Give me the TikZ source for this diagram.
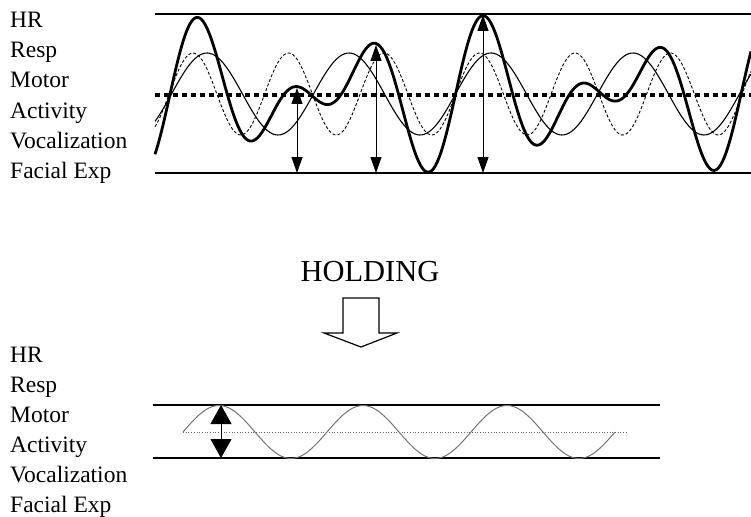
\documentclass[tikz,border=0pt]{standalone}
\usepackage{fontspec}
\setmainfont{Liberation Serif}
\usetikzlibrary{arrows.meta}
\tikzset{
  rowlabel/.style={
    anchor=base west,
    inner sep=0pt,
    font=\fontsize{23.5}{27}\selectfont
  },
  titlelabel/.style={
    inner sep=0pt,
    font=\fontsize{30.5}{34}\selectfont
  },
  railline/.style={
    draw=black,
    line width=1.3pt
  },
  slowwave/.style={
    line width=1.1pt
  },
  fastwave/.style={
    line width=0.9pt,
    dash pattern=on 3pt off 2pt
  },
  sumwave/.style={
    line width=2.8pt
  },
  meanline/.style={
    line width=4pt,
    dash pattern=on 5pt off 4pt
  },
  spanarrow/.style={
    line width=0.9pt,
    {Triangle[length=16pt,width=11pt]}-{Triangle[length=16pt,width=11pt]}
  },
  calmwave/.style={
    draw=black!55,
    line width=1pt
  },
  calmmean/.style={
    draw=black!60,
    line width=0.7pt,
    dotted
  },
  calmarrow/.style={
    line width=1pt,
    {Triangle[length=19pt,width=21pt]}-{Triangle[length=19pt,width=21pt]}
  }
}

\begin{document}
\begin{tikzpicture}[x=1pt,y=-1pt]
  \useasboundingbox (0,0) rectangle (751,516);
  \foreach \lab [count=\i] in {HR,Resp,Motor,Activity,Vocalization,Facial Exp}{
    \node[rowlabel] (toplab\i) at (10,{-2+30*\i}) {\lab};
    \node[rowlabel] (botlab\i) at (10,{332+30*\i}) {\lab};
  }
  \coordinate (railAw) at (155,14);
  \coordinate (railAe) at (751,14);
  \coordinate (railBw) at (155,173);
  \coordinate (railBe) at (751,173);
  \coordinate (meanw) at (155,95);
  \coordinate (meane) at (751,95);
  \draw[railline] (railAw) -- (railAe);
  \draw[railline] (railBw) -- (railBe);
  \draw[slowwave] plot[domain=155:751,samples=240] (\x,{94-41*cos((\x-207)/142*360)});
  \draw[fastwave] plot[domain=155:751,samples=300] (\x,{94-41*cos((\x-193)/95.5*360)});
  \draw[sumwave] plot[domain=155:751,samples=360] (\x,{94-41*cos((\x-207)/142*360)-41*cos((\x-193)/95.5*360)});
  \draw[meanline] (meanw) -- (meane);
  \foreach \ax/\ay [count=\k] in {297/88,376/45,483/15}{
    \coordinate (spantop\k) at (\ax,\ay);
    \coordinate (spanbot\k) at (\ax,173);
    \draw[spanarrow] (spanbot\k) -- (spantop\k);
  }
  \node[titlelabel] (holding) at (370,272) {HOLDING};
  \draw[line width=1.2pt] (343,298) -- (379,298) -- (379,333) -- (397,333) -- (361,347) -- (324,333) -- (343,333) -- cycle;
  \coordinate (railCw) at (153,405);
  \coordinate (railCe) at (660,405);
  \coordinate (railDw) at (153,458);
  \coordinate (railDe) at (660,458);
  \coordinate (calmw) at (183,432);
  \coordinate (calme) at (628,432);
  \draw[railline,line width=1.8pt] (railCw) -- (railCe);
  \draw[railline,line width=1.8pt] (railDw) -- (railDe);
  \draw[calmmean] (calmw) -- (calme);
  \draw[calmwave] plot[domain=183:615,samples=200] (\x,{432-26.5*sin((\x-183)/144*360)});
  \coordinate (calmtop) at (221,405);
  \coordinate (calmbot) at (221,458);
  \draw[calmarrow] (calmbot) -- (calmtop);
\end{tikzpicture}
\end{document}
